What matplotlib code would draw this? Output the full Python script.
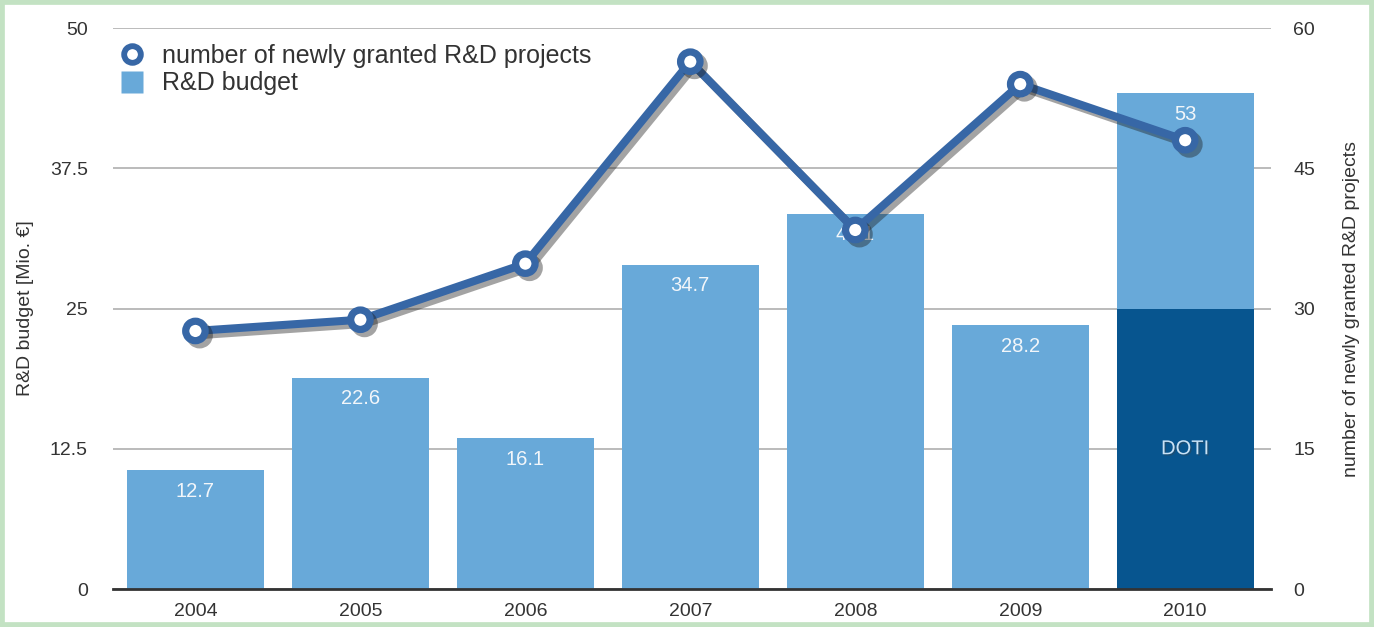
import matplotlib
matplotlib.use('Agg')
import matplotlib.pyplot as plt
import matplotlib.patheffects as pe
from matplotlib.patches import Rectangle
from matplotlib.lines import Line2D
import numpy as np

plt.rcParams['font.family'] = ['Liberation Sans', 'DejaVu Sans']

years = ['2004', '2005', '2006', '2007', '2008', '2009', '2010']
budget = [12.7, 22.6, 16.1, 34.7, 40.1, 28.2, 53]
doti = [0, 0, 0, 0, 0, 0, 30]
projects = [23, 24, 29, 47, 32, 45, 40]

light = '#68a9d9'
dark = '#07558f'
line_c = '#3767a6'
txt_c = '#333333'

fig = plt.figure(figsize=(13.74, 6.27), dpi=100)
fig.patches.append(Rectangle((0, 0), 1, 1, transform=fig.transFigure,
                             fill=False, edgecolor='#c3e2c3', linewidth=7))

# bars on the primary axes, line on the twin so it draws on top
ax = fig.add_axes([0.0822, 0.0606, 0.8428, 0.8947])
ax2 = ax.twinx()
x = np.arange(len(years))

ax.bar(x, budget, width=0.83, color=light, zorder=2)
ax.bar(x, doti, width=0.83, color=dark, zorder=2)
ax.set_xlim(-0.5, 6.52)
ax.set_ylim(0, 60)
ax.set_yticks([0, 15, 30, 45, 60])
ax.grid(axis='y', color='#b5b5b5', linewidth=1.3, zorder=0)
ax.set_axisbelow(True)
for s in ['top', 'left', 'right']:
    ax.spines[s].set_visible(False)
ax.spines['bottom'].set_color(txt_c)
ax.spines['bottom'].set_linewidth(2)
ax.set_xticks(x)
ax.set_xticklabels(years)
ax.tick_params(axis='both', length=0, labelsize=14, colors=txt_c)
ax.tick_params(axis='x', pad=10)

for xi, v in zip(x, budget):
    ax.annotate(f'{v:g}', (xi, v), xytext=(0, -15), textcoords='offset points',
                ha='center', va='center', fontsize=14.5, color='#f2f6fa', zorder=3)
for xi, v in zip(x, doti):
    if v:
        ax.text(xi, v / 2, 'DOTI', ha='center', va='center', fontsize=14.5,
                color='#c8e2f6', zorder=3,
                path_effects=[pe.withSimplePatchShadow(offset=(1, -1), alpha=0.4)])

ax2.set_ylim(0, 50)
ax2.set_yticks([0, 12.5, 25, 37.5, 50])
ax2.set_yticklabels(['0', '12.5', '25', '37.5', '50'])
for s in ax2.spines.values():
    s.set_visible(False)
ax2.plot(x, projects, color=line_c, linewidth=5.8, marker='o', markersize=14,
         markerfacecolor='white', markeredgecolor=line_c, markeredgewidth=5.2,
         solid_capstyle='round', zorder=5,
         path_effects=[pe.SimpleLineShadow(offset=(3, -3), shadow_color='#1a1a1a', alpha=0.4),
                       pe.Normal()])

# swap sides: projects scale on the right, budget scale on the left
ax.yaxis.tick_right()
ax.yaxis.set_label_position('right')
ax.set_ylabel('number of newly granted R&D projects', fontsize=14, color=txt_c)
ax.yaxis.set_label_coords(1.062, 0.5)
ax.tick_params(axis='y', length=0, labelsize=14, colors=txt_c, pad=16)
ax2.yaxis.tick_left()
ax2.yaxis.set_label_position('left')
ax2.set_ylabel('R&D budget [Mio. €]', fontsize=14, color=txt_c)
ax2.yaxis.set_label_coords(-0.068, 0.5)
ax2.tick_params(axis='y', length=0, labelsize=14, colors=txt_c, pad=18)

handles = [Line2D([], [], color='none', marker='o', markersize=12,
                  markerfacecolor='white', markeredgecolor=line_c, markeredgewidth=4.2),
           Line2D([], [], color='none', marker='s', markersize=16,
                  markerfacecolor=light, markeredgecolor='none')]
ax2.legend(handles, ['number of newly granted R&D projects', 'R&D budget'],
           loc='upper left', bbox_to_anchor=(0.006, 0.972), frameon=False,
           fontsize=18, handlelength=1.0, handletextpad=0.7, labelspacing=0.15,
           borderaxespad=0, borderpad=0, labelcolor=txt_c)

fig.savefig('out.png', dpi=100)
